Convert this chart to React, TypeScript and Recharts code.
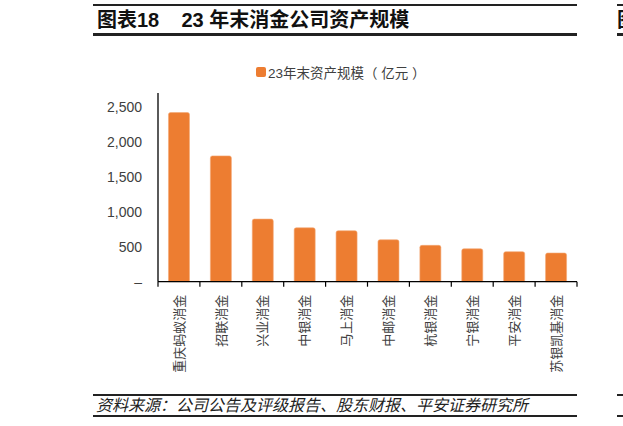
import React from 'react';
import { BarChart, Bar, XAxis, YAxis } from 'recharts';

const categories = ['重庆蚂蚁消金', '招联消金', '兴业消金', '中银消金', '马上消金', '中邮消金', '杭银消金', '宁银消金', '平安消金', '苏银凯基消金'];
const assets = [2420, 1800, 896, 771, 729, 600, 520, 471, 429, 410];
const yTicks = [0, 500, 1000, 1500, 2000, 2500];
const seriesName = '23年末资产规模（ 亿元 ）';
const titleLabel = '图表18';
const titleText = '23 年末消金公司资产规模';
const sourceText = '资料来源：公司公告及评级报告、股东财报、平安证券研究所';

const data = categories.map((name, i) => ({ name, value: assets[i] }));

const ORANGE = '#ED7D31';
const TEXT = '#404040';
const CJK = '"Liberation Sans", "Noto Sans CJK SC", sans-serif';

const XTick = (props: any) => {
  const { x, y, payload, width, visibleTicksCount, index } = props;
  let half = Number(width) / Number(visibleTicksCount) / 2;
  if (!isFinite(half)) half = payload?.offset ?? 21;
  return (
    <g>
      <line x1={x - half} x2={x - half} y1={y} y2={y + 5} stroke="#000" strokeWidth={1.2} />
      {index === visibleTicksCount - 1 && (
        <line x1={x + half} x2={x + half} y1={y} y2={y + 5} stroke="#000" strokeWidth={1.2} />
      )}
      <g transform={`translate(${x},${y + 13})`}>
        <text transform="rotate(-90)" textAnchor="end" dy="0.36em" fill={TEXT} fontSize={13} fontFamily={CJK}>
          {payload.value}
        </text>
      </g>
    </g>
  );
};

export default function App() {
  return (
    <div style={{ position: 'absolute', left: 0, top: 0, width: 623, height: 426, background: '#fff', overflow: 'hidden', fontFamily: CJK }}>
      {/* title block */}
      <div style={{ position: 'absolute', left: 93, top: 4, width: 484, height: 2, background: '#222' }} />
      <div style={{ position: 'absolute', left: 97, top: 7, fontSize: 20, fontWeight: 'bold', color: '#111', whiteSpace: 'pre', lineHeight: '27px' }}>
        {titleLabel + '    ' + titleText}
      </div>
      <div style={{ position: 'absolute', left: 93, top: 33, width: 484, height: 3, background: '#222' }} />
      {/* neighbouring panel edge */}
      <div style={{ position: 'absolute', left: 617, top: 4, width: 10, height: 2, background: '#222' }} />
      <div style={{ position: 'absolute', left: 617, top: 7, fontSize: 20, fontWeight: 'bold', color: '#111', whiteSpace: 'pre', lineHeight: '27px' }}>图</div>
      <div style={{ position: 'absolute', left: 617, top: 33, width: 10, height: 3, background: '#222' }} />
      <div style={{ position: 'absolute', left: 617, top: 394, width: 10, height: 1.5, background: '#222' }} />
      <div style={{ position: 'absolute', left: 617, top: 415, width: 10, height: 2, background: '#222' }} />

      {/* legend */}
      <div style={{ position: 'absolute', left: 256, top: 62, display: 'flex', alignItems: 'center', fontSize: 13.5, color: TEXT, whiteSpace: 'pre' }}>
        <span style={{ display: 'inline-block', width: 10, height: 10, background: ORANGE, borderRadius: 2, marginRight: 2 }} />
        <span>{seriesName}</span>
      </div>

      <div style={{ position: 'absolute', left: 0, top: 0 }}>
        <BarChart width={623} height={426} data={data} margin={{ top: 93, right: 46, left: 0, bottom: 0 }} barCategoryGap="25%">
          <YAxis
            width={158}
            domain={[0, 2700]}
            ticks={yTicks}
            interval={0}
            tickLine={false}
            tickSize={0}
            tickMargin={16}
            axisLine={{ stroke: '#000', strokeWidth: 1.3 }}
            tick={{ fill: TEXT, fontSize: 14, fontFamily: CJK }}
            tickFormatter={(v: number) => (v === 0 ? '–' : v.toLocaleString('en-US'))}
          />
          <XAxis
            dataKey="name"
            height={144.3}
            interval={0}
            tickLine={false}
            tickSize={0}
            tickMargin={0}
            axisLine={{ stroke: '#000', strokeWidth: 1.3 }}
            tick={<XTick />}
          />
          <Bar dataKey="value" name={seriesName} fill={ORANGE} stroke="#F4A774" strokeWidth={0.6} radius={[2, 2, 0, 0]} isAnimationActive={false} />
        </BarChart>
      </div>

      {/* source */}
      <div style={{ position: 'absolute', left: 93, top: 394, width: 484, height: 1.5, background: '#222' }} />
      <div style={{ position: 'absolute', left: 96, top: 396, fontSize: 16, fontStyle: 'italic', color: '#222', whiteSpace: 'pre', lineHeight: '19px' }}>
        {sourceText}
      </div>
      <div style={{ position: 'absolute', left: 93, top: 415, width: 484, height: 2, background: '#222' }} />
    </div>
  );
}
